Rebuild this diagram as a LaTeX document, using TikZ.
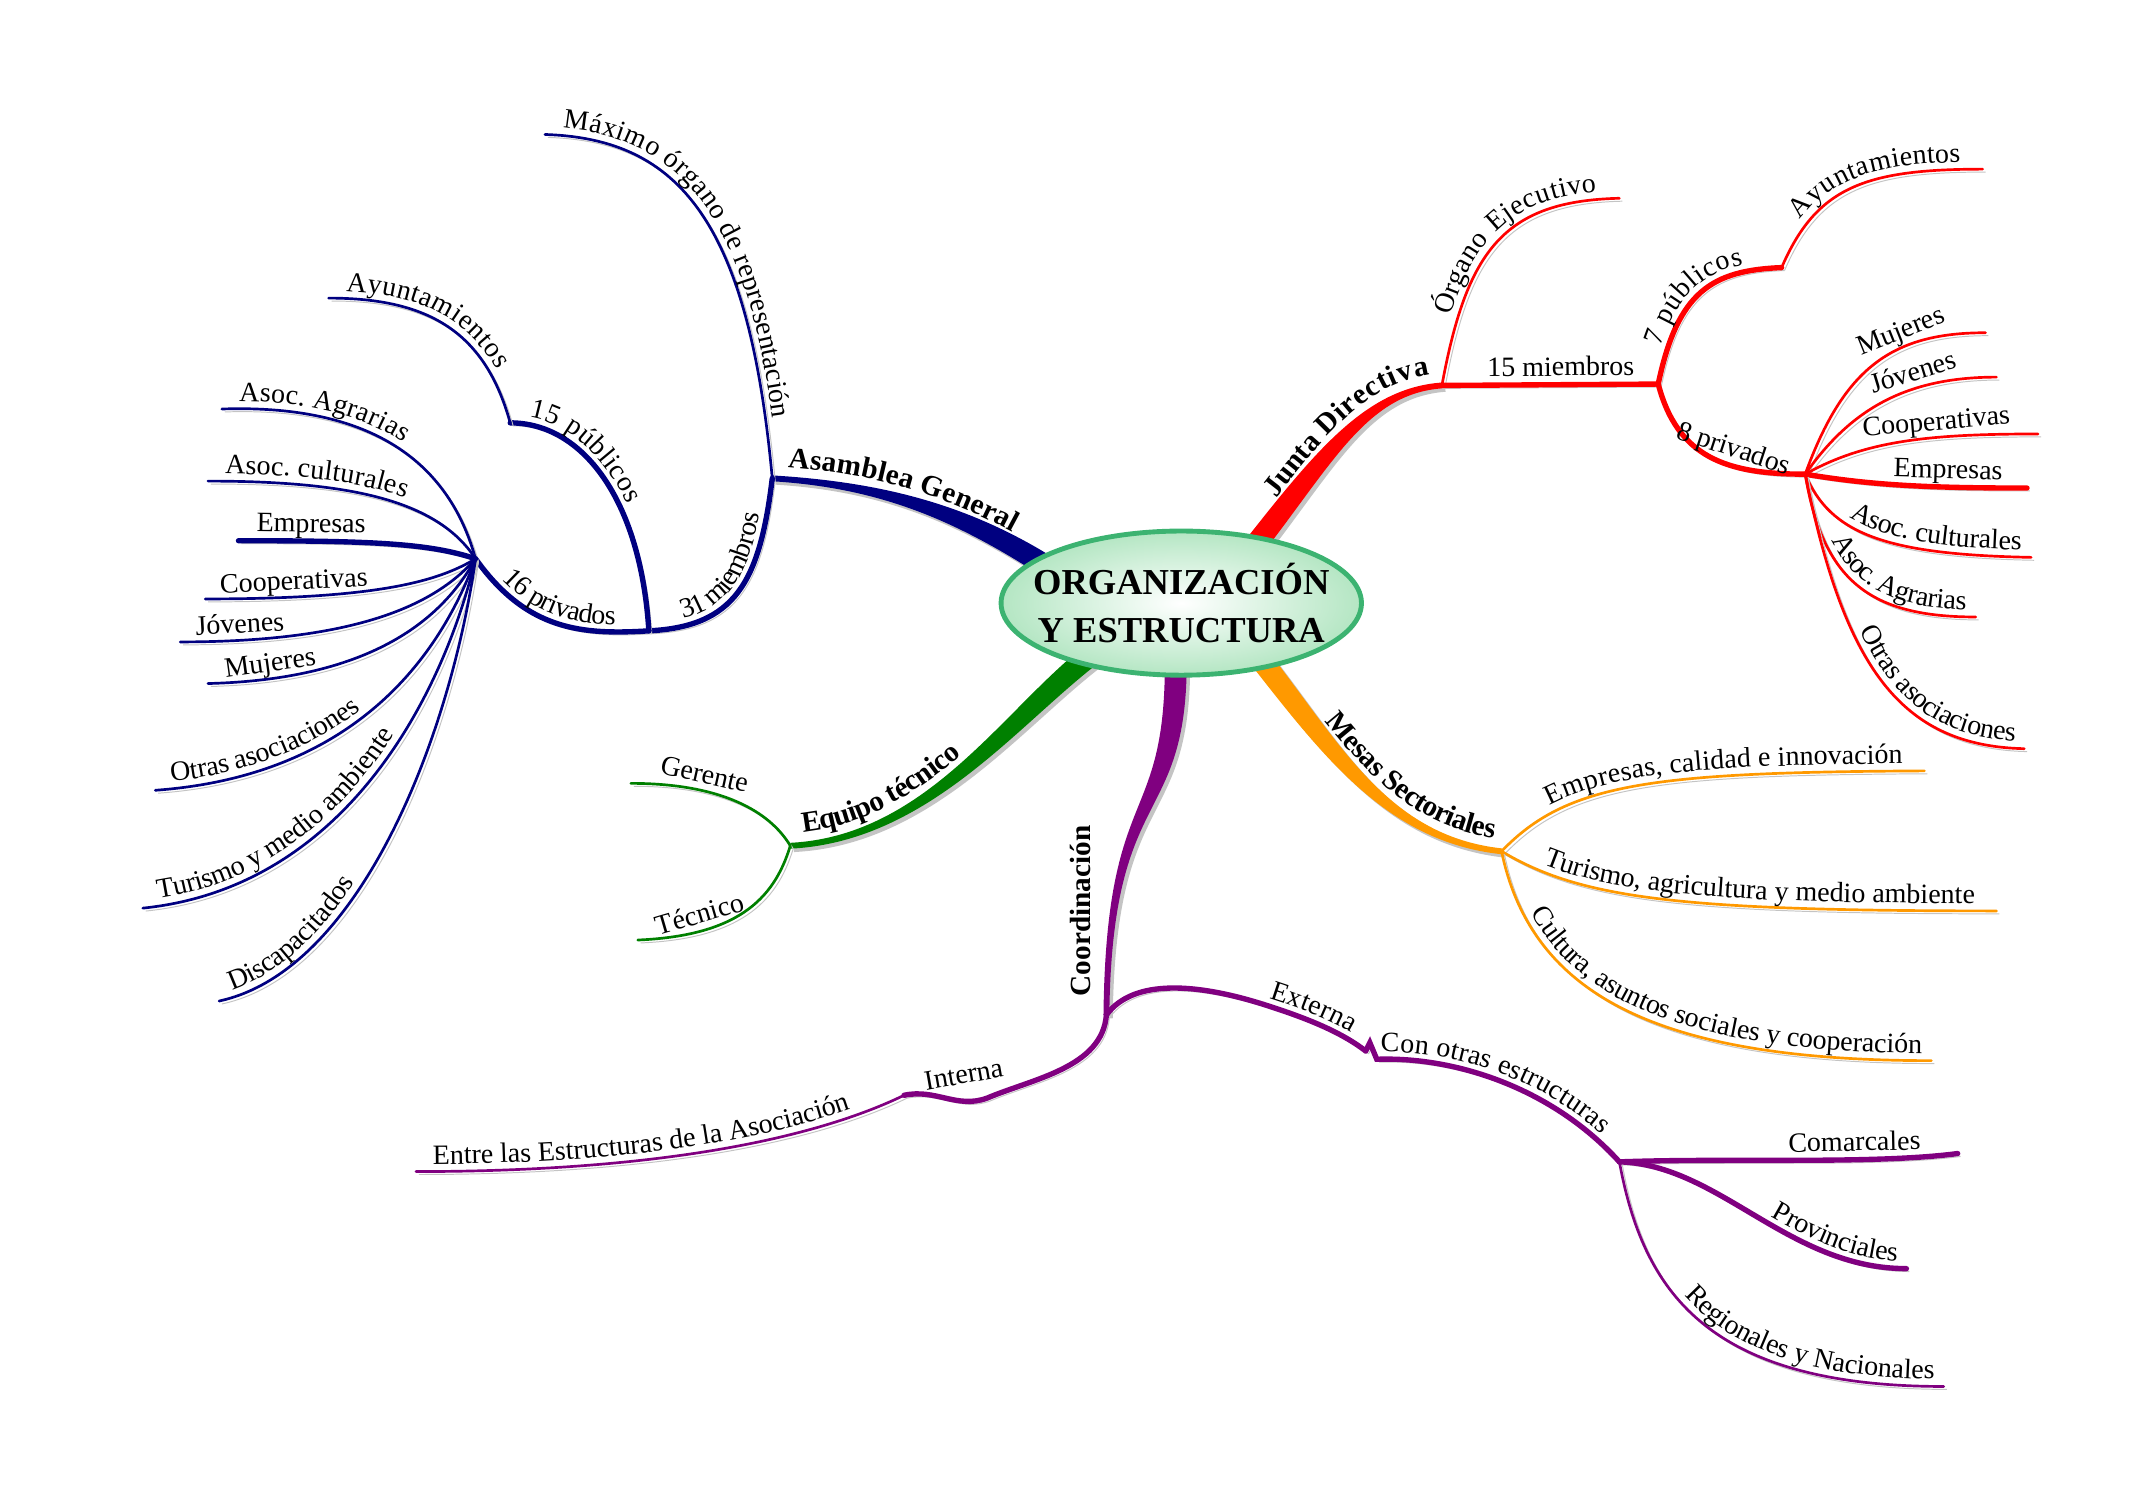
\documentclass[tikz,border=0pt]{standalone}
\usepackage{fontspec}
\setmainfont{Liberation Serif}
\usetikzlibrary{shapes.geometric}
\usetikzlibrary{calc}
\usetikzlibrary{decorations.text}

\definecolor{navyb}{HTML}{000080}
\definecolor{redb}{HTML}{FF0000}
\definecolor{greenb}{HTML}{008000}
\definecolor{orangeb}{HTML}{FF9900}
\definecolor{purpleb}{HTML}{800080}
\definecolor{shadowgray}{HTML}{C4C4C4}
\definecolor{hubedge}{HTML}{3CB371}
\definecolor{hubfill}{HTML}{B4E6C3}

\newcommand\leaffont{\fontsize{11.5}{13.5}\selectfont}
\newcommand\limbfont{\fontsize{12}{14}\selectfont\bfseries}

% tapered main branch: colour, root, control 1, control 2, end
\newcommand\limbtaper[5]{%
  \fill[#1, preaction={fill=shadowgray, transform canvas={xshift=1.4pt,yshift=-1.4pt}}]
    ($(#2)!4.5pt!90:(#3)$) .. controls ($(#3)!4.5pt!-90:(#2)$) and ($(#4)!1.2pt!90:(#5)$) .. ($(#5)!1.2pt!-90:(#4)$)
    -- ($(#5)!1.2pt!90:(#4)$) .. controls ($(#4)!1.2pt!-90:(#5)$) and ($(#3)!4.5pt!90:(#2)$) .. ($(#2)!4.5pt!-90:(#3)$) -- cycle;}

\tikzset{
  shad/.style={preaction={draw=shadowgray, transform canvas={xshift=1.2pt,yshift=-1.2pt}}},
  twig/.style={draw=#1, line width=1.1pt, line cap=round, shad},
  limb/.style={draw=#1, line width=2.2pt, line cap=round, shad},
  tag/.style={sloped, above, font=\leaffont, inner sep=0.5pt, text height=8pt, text depth=2pt},
  txtL/.style={postaction={decorate, decoration={text along path, raise=3pt, text={|\leaffont|#1}, text align={left, left indent=7pt}}}},
  txtR/.style={postaction={decorate, decoration={text along path, raise=3pt, text={|\leaffont|#1}, text align={right, right indent=4pt}}}},
  txtRR/.style={postaction={decorate, decoration={text along path, raise=3pt, text={|\leaffont|#1}, text align={right, right indent=9pt}}}},
  txtC/.style={postaction={decorate, decoration={text along path, raise=3pt, text={|\leaffont|#1}, text align=center}}},
  btxtL/.style={postaction={decorate, decoration={text along path, raise=5pt, text={|\limbfont|#1}, text align={left, left indent=6pt}}}},
  btxtR/.style={postaction={decorate, decoration={text along path, raise=5pt, text={|\limbfont|#1}, text align={right, right indent=4pt}}}},
  hub/.style={ellipse, draw=hubedge, line width=2pt, inner color=white, outer color=hubfill,
    minimum width=5.2cm, minimum height=2.08cm, inner xsep=-0.4cm, inner ysep=0pt, align=center,
    font=\fontsize{15}{20}\selectfont\bfseries}
}

\begin{document}
\begin{tikzpicture}[x=0.02cm,y=-0.02cm]
\useasboundingbox (0,0) rectangle (1550,1085);

% junctions
\coordinate (ag) at (557,345);
\coordinate (m31) at (468,455);
\coordinate (p15) at (368,305);
\coordinate (p16) at (343,403);
\coordinate (eq) at (570,610);
\coordinate (jd) at (1040,278);
\coordinate (m15) at (1196,277);
\coordinate (p7) at (1285,193);
\coordinate (p8) at (1302,342);
\coordinate (ms) at (1083,614);
\coordinate (co) at (798,732);
\coordinate (int) at (652,790);
\coordinate (ext) at (985,758);
\coordinate (ext2) at (993,764);
\coordinate (oe) at (1168,838);

% roots inside the hub
\coordinate (rAG) at (765,415);
\coordinate (rEQ) at (790,470);
\coordinate (rJD) at (900,400);
\coordinate (rMS) at (905,470);
\coordinate (rCO) at (848,470);

% main branches
\limbtaper{navyb}{rAG}{700,372}{640,350}{ag}
\limbtaper{greenb}{rEQ}{730,515}{670,605}{eq}
\limbtaper{redb}{rJD}{955,330}{985,282}{jd}
\limbtaper{orangeb}{rMS}{960,540}{1000,605}{ms}
\limbtaper{purpleb}{rCO}{850,600}{800,560}{co}

\path[btxtL={Asamblea General}] (ag) .. controls (640,350) and (700,372) .. (rAG);
\path[btxtL={Equipo técnico}] (eq) .. controls (670,605) and (730,515) .. (rEQ);
\path[btxtR={Junta Directiva}] (rJD) .. controls (955,330) and (985,282) .. (jd);
\path[btxtR={Mesas Sectoriales}] (rMS) .. controls (960,540) and (1000,605) .. (ms);
\node[font=\limbfont, rotate=90] (tCo) at (779,657) {Coordinación};

% Asamblea General
\draw[twig=navyb, txtL={Máximo órgano de representación}] (393,97) .. controls (490,100) and (540,160) .. (ag);
\draw[limb=navyb, txtC={31 miembros}] (m31) .. controls (530,452) and (548,420) .. (ag);
\draw[limb=navyb, txtL={15 públicos}] (p15) .. controls (420,305) and (462,360) .. (m31);
\draw[twig=navyb, txtL={Ayuntamientos}] (237,215) .. controls (310,215) and (350,240) .. (p15);
\draw[limb=navyb, txtC={16 privados}] (p16) .. controls (380,455) and (420,458) .. (m31);
\draw[twig=navyb, txtL={Asoc. Agrarias}] (160,295) .. controls (250,292) and (320,320) .. (p16);
\draw[twig=navyb, txtL={Asoc. culturales}] (150,347) .. controls (250,347) and (315,360) .. (p16);
\draw[limb=navyb] (172,390) .. controls (270,390) and (310,392) .. (p16) node[tag, pos=0.2] (tEmpL) {Empresas};
\draw[twig=navyb] (148,432) .. controls (270,432) and (315,420) .. (p16) node[tag, pos=0.2] (tCooL) {Cooperativas};
\draw[twig=navyb] (130,463) .. controls (260,463) and (315,435) .. (p16) node[tag, pos=0.12] (tJovL) {Jóvenes};
\draw[twig=navyb] (150,493) .. controls (270,490) and (320,445) .. (p16) node[tag, pos=0.14] (tMujL) {Mujeres};
\draw[twig=navyb, txtL={Otras asociaciones}] (112,570) .. controls (250,560) and (315,480) .. (p16);
\draw[twig=navyb, txtL={Turismo y medio ambiente}] (103,655) .. controls (250,640) and (320,500) .. (p16);
\draw[twig=navyb, txtL={Discapacitados}] (158,722) .. controls (260,700) and (325,530) .. (p16);

% Equipo tecnico
\draw[twig=greenb] (455,565) .. controls (520,565) and (555,585) .. (eq) node[tag, pos=0.3] (tGer) {Gerente};
\draw[twig=greenb] (460,678) .. controls (530,675) and (558,650) .. (eq) node[tag, pos=0.27] (tTec) {Técnico};

% Junta Directiva
\draw[twig=redb, txtRR={Órgano Ejecutivo}] (jd) .. controls (1058,180) and (1085,145) .. (1168,143);
\draw[limb=redb] (jd) -- (m15) node[tag, pos=0.55] (t15m) {15 miembros};
\draw[limb=redb, txtC={7 públicos}] (m15) .. controls (1210,210) and (1235,195) .. (p7);
\draw[twig=redb, txtRR={Ayuntamientos}] (p7) .. controls (1310,135) and (1345,122) .. (1430,122);
\draw[limb=redb] (m15) .. controls (1210,330) and (1245,342) .. (p8) node[tag, pos=0.62] (t8p) {8 privados};
\draw[twig=redb] (p8) .. controls (1330,265) and (1365,240) .. (1432,240) node[tag, pos=0.67] (tMujR) {Mujeres};
\draw[twig=redb] (p8) .. controls (1335,295) and (1375,272) .. (1440,272) node[tag, pos=0.67] (tJovR) {Jóvenes};
\draw[twig=redb] (p8) .. controls (1345,318) and (1390,313) .. (1470,313) node[tag, pos=0.65] (tCooR) {Cooperativas};
\draw[limb=redb] (p8) .. controls (1350,350) and (1390,352) .. (1462,352) node[tag, pos=0.7] (tEmpR) {Empresas};
\draw[twig=redb, txtR={Asoc. culturales}] (p8) .. controls (1320,385) and (1360,400) .. (1465,402);
\draw[twig=redb, txtR={Asoc. Agrarias}] (p8) .. controls (1315,420) and (1350,445) .. (1425,445);
\draw[twig=redb, txtR={Otras asociaciones}] (p8) .. controls (1330,480) and (1370,538) .. (1460,540);

% Mesas Sectoriales
\draw[twig=orangeb, txtRR={Empresas, calidad e innovación}] (ms) .. controls (1130,565) and (1190,557) .. (1388,556);
\draw[twig=orangeb, txtRR={Turismo, agricultura y medio ambiente}] (ms) .. controls (1140,648) and (1210,657) .. (1440,657);
\draw[twig=orangeb, txtR={Cultura, asuntos sociales y cooperación}] (ms) .. controls (1105,720) and (1200,765) .. (1393,765);

% Coordinacion
\draw[limb=purpleb, txtRR={Externa}] (co) .. controls (818,705) and (865,710) .. (910,724) .. controls (945,735) and (968,745) .. (ext);
\draw[limb=purpleb, txtC={Con otras estructuras}] (ext) -- (988,752) -- (ext2) .. controls (1050,762) and (1120,785) .. (oe);
\draw[limb=purpleb] (int) .. controls (675,785) and (690,800) .. (712,792) .. controls (745,778) and (795,770) .. (co);
\node[font=\leaffont, rotate=10] (tInt) at (695,775) {Interna};
\draw[twig=purpleb, txtL={Entre las Estructuras de la Asociación}] (300,845) .. controls (480,845) and (590,820) .. (int);
\draw[limb=purpleb] (oe) .. controls (1250,835) and (1350,840) .. (1412,832) node[tag, pos=0.66] (tCom) {Comarcales};
\draw[limb=purpleb, txtR={Provinciales}] (oe) .. controls (1240,840) and (1290,915) .. (1375,915);
\draw[twig=purpleb, txtR={Regionales y Nacionales}] (oe) .. controls (1185,930) and (1230,1000) .. (1402,1000);

% hub
\node[hub] (org) at (852,435) {ORGANIZACIÓN\\Y ESTRUCTURA};
\end{tikzpicture}
\end{document}
